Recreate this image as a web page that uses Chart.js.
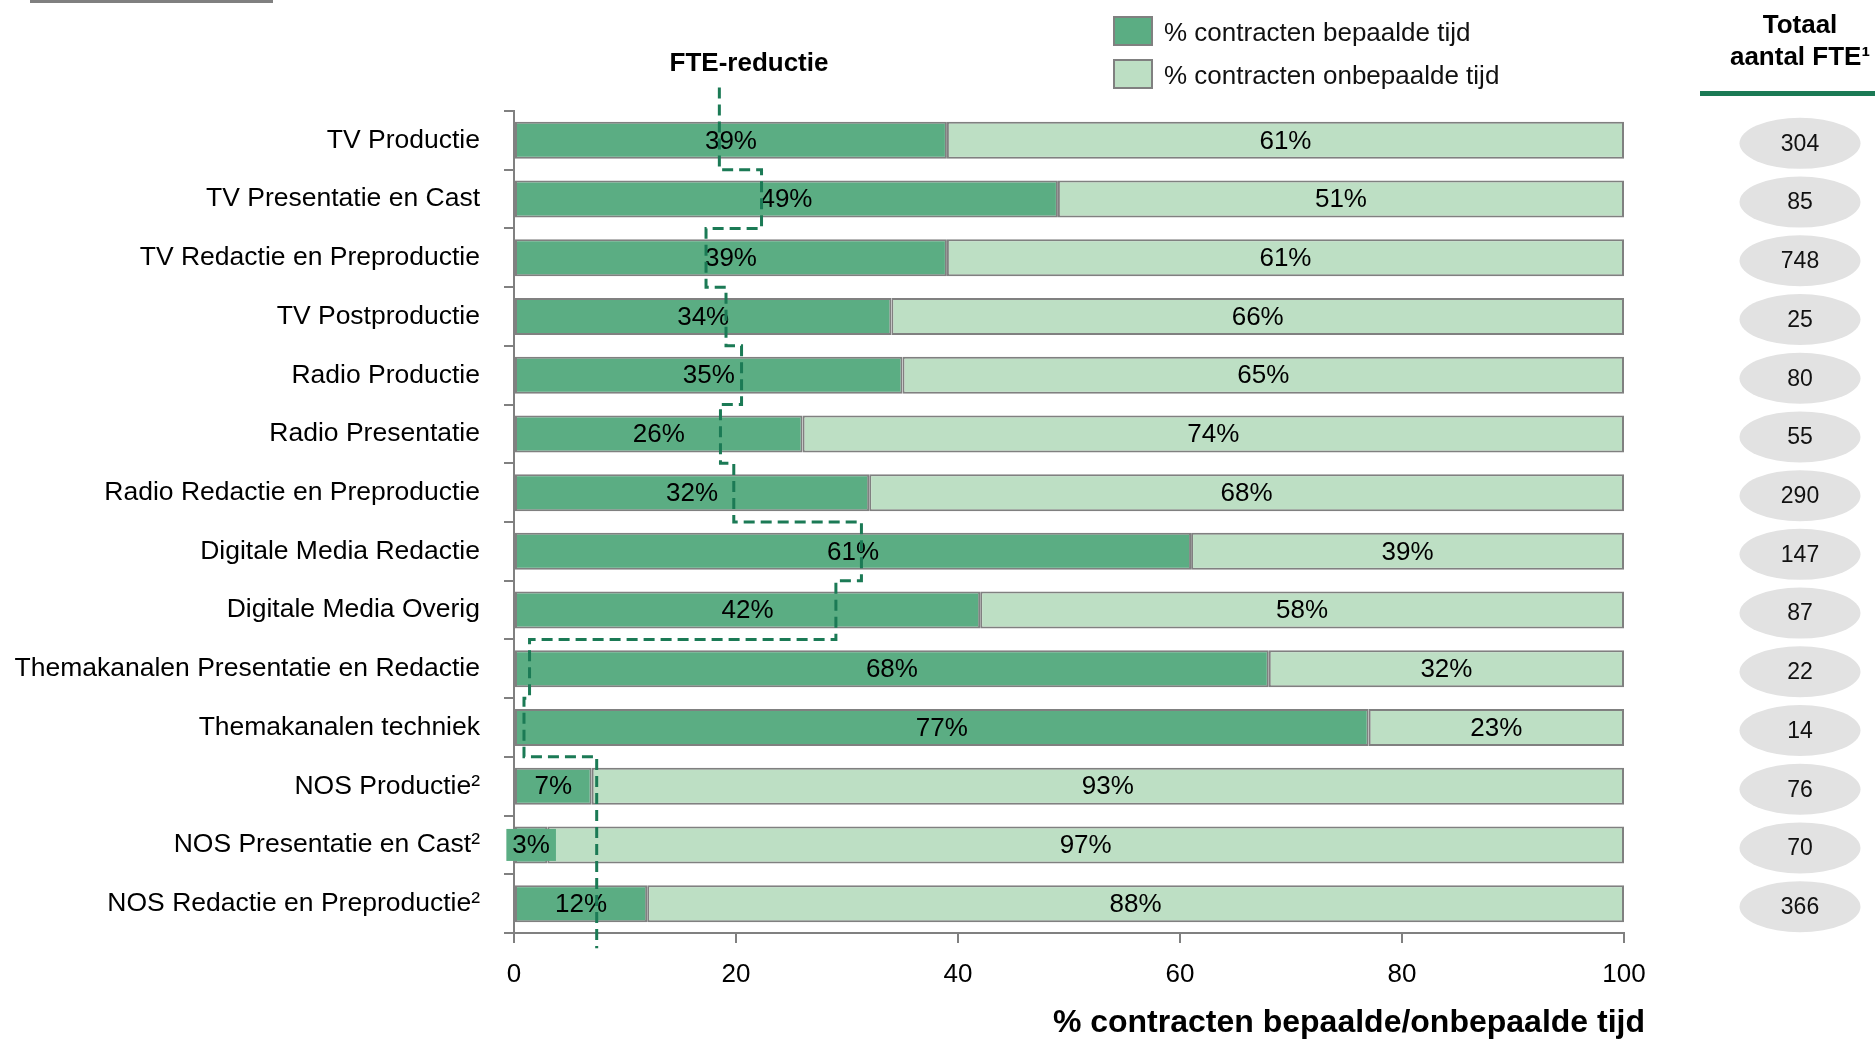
<!DOCTYPE html>
<html>
<head>
<meta charset="utf-8">
<script src="https://cdn.jsdelivr.net/npm/chart.js@4.4.1/dist/chart.umd.min.js"></script>
<style>
  html, body { margin: 0; padding: 0; background: #ffffff; }
  #wrap { width: 1875px; height: 1040px; position: relative; }
</style>
</head>
<body>
<div id="wrap"><canvas id="c" width="1875" height="1040"></canvas></div>
<script>
// ---- data ----
const categories = [
  'TV Productie',
  'TV Presentatie en Cast',
  'TV Redactie en Preproductie',
  'TV Postproductie',
  'Radio Productie',
  'Radio Presentatie',
  'Radio Redactie en Preproductie',
  'Digitale Media Redactie',
  'Digitale Media Overig',
  'Themakanalen Presentatie en Redactie',
  'Themakanalen techniek',
  'NOS Productie\u00B2',
  'NOS Presentatie en Cast\u00B2',
  'NOS Redactie en Preproductie\u00B2'
];
const seriesNames = ['% contracten bepaalde tijd', '% contracten onbepaalde tijd'];
const bepaalde   = [39, 49, 39, 34, 35, 26, 32, 61, 42, 68, 77, 7, 3, 12];
const onbepaalde = [61, 51, 61, 66, 65, 74, 68, 39, 58, 32, 23, 93, 97, 88];
const fteReductie = [18.5, 22.3, 17.3, 19.1, 20.5, 18.6, 19.8, 31.3, 29.0, 1.4, 0.9, 7.45, 7.45, 7.45];
const totaalFTE = [304, 85, 748, 25, 80, 55, 290, 147, 87, 22, 14, 76, 70, 366];
const xTickValues = [0, 20, 40, 60, 80, 100];
const xAxisTitle = '% contracten bepaalde/onbepaalde tijd';
const lineTitle = 'FTE-reductie';
const totalHeader = ['Totaal', 'aantal FTE\u00B9'];

// ---- styles ----
const FONT = "'Liberation Sans', Arial, Helvetica, sans-serif";
const DARK = '#5BAD83';
const LIGHT = '#BDDFC4';
const BORDER = '#808080';
const LINE_GREEN = '#1B7A55';

// step line points built from the FTE reduction values (row boundaries on a hidden linear axis)
const stepPoints = [];
stepPoints.push({ x: fteReductie[0], y: -0.9 });
fteReductie.forEach((v, i) => {
  stepPoints.push({ x: v, y: i - 0.5 });
  stepPoints.push({ x: v, y: i + 0.5 });
});
stepPoints.push({ x: fteReductie[fteReductie.length - 1], y: categories.length - 0.5 + 0.26 });

const extrasPlugin = {
  id: 'extras',
  afterDatasetDraw(chart, args) {
    if (args.index !== 0) return;
    const ctx = chart.ctx;
    ctx.save();
    ctx.font = '26px ' + FONT;
    ctx.textAlign = 'center';
    ctx.textBaseline = 'middle';
    [0, 1].forEach(di => {
      const meta = chart.getDatasetMeta(di);
      const data = chart.data.datasets[di].data;
      meta.data.forEach((bar, i) => {
        const p = bar.getProps(['x', 'y', 'base', 'height'], true);
        const cx = (p.x + p.base) / 2;
        const txt = data[i] + '%';
        const w = ctx.measureText(txt).width;
        if (w > Math.abs(p.x - p.base)) {
          ctx.fillStyle = chart.data.datasets[di].backgroundColor;
          ctx.fillRect(cx - w / 2 - 6, p.y - 16, w + 12, 32);
        }
        ctx.fillStyle = '#000';
        ctx.fillText(txt, cx, p.y + 1);
      });
    });
    ctx.restore();
  },
  afterDraw(chart) {
    const ctx = chart.ctx;
    const yScale = chart.scales.y;
    ctx.save();
    // top-left rule
    ctx.fillStyle = '#808080';
    ctx.fillRect(30, 0, 243, 3);

    // legend
    ctx.font = '26px ' + FONT;
    ctx.textAlign = 'left';
    ctx.textBaseline = 'middle';
    const legendColors = [DARK, LIGHT];
    const legendY = [17, 60];
    seriesNames.forEach((name, k) => {
      ctx.fillStyle = legendColors[k];
      ctx.fillRect(1114, legendY[k], 38, 28);
      ctx.strokeStyle = BORDER;
      ctx.lineWidth = 2;
      ctx.strokeRect(1114, legendY[k], 38, 28);
      ctx.fillStyle = '#111';
      ctx.fillText(name, 1164, legendY[k] + 17);
    });

    // FTE-reductie title
    ctx.font = 'bold 26px ' + FONT;
    ctx.textAlign = 'center';
    ctx.fillStyle = '#000';
    ctx.fillText(lineTitle, 749, 64);

    // Totaal header
    ctx.fillText(totalHeader[0], 1800, 26);
    ctx.fillText(totalHeader[1], 1800, 58);
    ctx.fillStyle = LINE_GREEN;
    ctx.fillRect(1700, 91, 175, 5);

    // ellipses with totals
    ctx.font = '23px ' + FONT;
    totaalFTE.forEach((v, i) => {
      const cy = yScale.getPixelForValue(i) + 3;
      ctx.beginPath();
      ctx.ellipse(1800, cy, 60.5, 25.5, 0, 0, Math.PI * 2);
      ctx.fillStyle = '#E2E2E2';
      ctx.fill();
      ctx.fillStyle = '#111';
      ctx.fillText(String(v), 1800, cy + 1);
    });

    // x axis title
    ctx.font = 'bold 32px ' + FONT;
    ctx.textAlign = 'right';
    ctx.fillStyle = '#000';
    ctx.fillText(xAxisTitle, 1645, 1023);
    ctx.restore();
  }
};

new Chart(document.getElementById('c'), {
  type: 'bar',
  data: {
    labels: categories,
    datasets: [
      {
        label: seriesNames[0], data: bepaalde, stack: 's', indexAxis: 'y',
        xAxisID: 'x', yAxisID: 'y',
        backgroundColor: DARK, borderColor: BORDER, borderWidth: 2, borderSkipped: false,
        grouped: false, categoryPercentage: 1, barPercentage: 0.63, order: 0
      },
      {
        label: seriesNames[1], data: onbepaalde, stack: 's', indexAxis: 'y',
        xAxisID: 'x', yAxisID: 'y',
        backgroundColor: LIGHT, borderColor: BORDER, borderWidth: 2, borderSkipped: false,
        grouped: false, categoryPercentage: 1, barPercentage: 0.63, order: 0
      },
      {
        type: 'line', label: lineTitle, data: stepPoints,
        indexAxis: 'x', xAxisID: 'x', yAxisID: 'y2',
        borderColor: LINE_GREEN, borderWidth: 3, borderDash: [11, 6],
        pointRadius: 0, fill: false, tension: 0, clip: false, order: -1, spanGaps: true
      }
    ]
  },
  options: {
    indexAxis: 'y',
    responsive: false,
    animation: false,
    layout: { padding: { left: 0, right: 251, top: 111, bottom: 0 } },
    plugins: { legend: { display: false }, tooltip: { enabled: false } },
    scales: {
      x: {
        type: 'linear', position: 'bottom', stacked: true, min: 0, max: 100,
        afterBuildTicks: (s) => { s.ticks = xTickValues.map(v => ({ value: v })); },
        ticks: { color: '#000', font: { family: FONT, size: 26 }, padding: 16, maxRotation: 0 },
        grid: { drawOnChartArea: false, drawTicks: true, tickLength: 10, color: BORDER, lineWidth: 2 },
        border: { color: BORDER, width: 2 },
        afterFit: (s) => { s.height = 107; }
      },
      y: {
        type: 'category', position: 'left', stacked: true,
        ticks: { color: '#000', font: { family: FONT, size: 26.5 }, padding: 24, autoSkip: false },
        grid: { offset: true, drawOnChartArea: false, drawTicks: true, tickLength: 10, color: BORDER, lineWidth: 2 },
        border: { color: BORDER, width: 2 },
        afterFit: (s) => { s.width = 514; }
      },
      y2: {
        type: 'linear', axis: 'y', position: 'right', display: false, reverse: true,
        offset: false, grid: { offset: false },
        min: -0.5, max: categories.length - 0.5, bounds: 'data'
      }
    }
  },
  plugins: [extrasPlugin]
});
</script>
</body>
</html>
